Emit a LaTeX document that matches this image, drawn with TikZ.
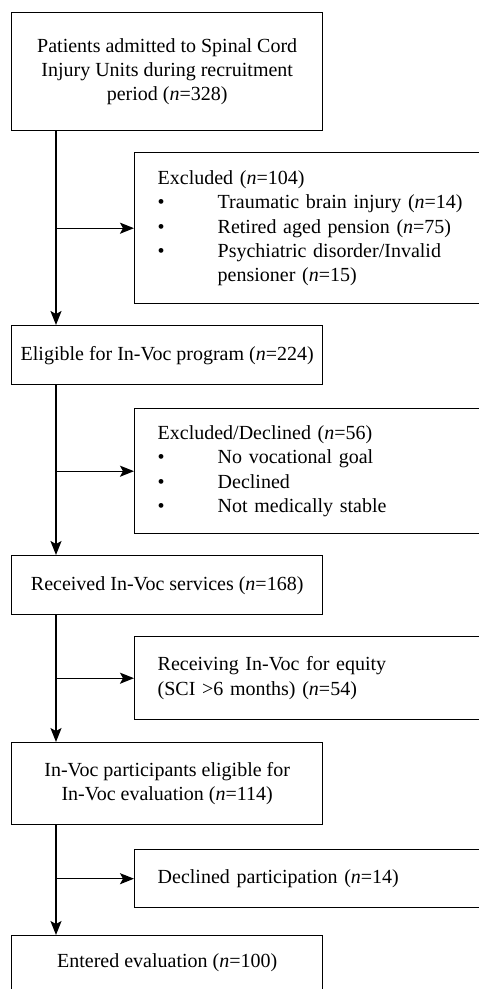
\documentclass[tikz,border=0pt]{standalone}
\usepackage{fontspec}
\setmainfont{Liberation Serif}
\usetikzlibrary{arrows.meta,calc}
\begin{document}
\begin{tikzpicture}[x=1pt,y=1pt,
  every node/.style={font=\fontsize{20}{24.4}\selectfont},
  leftbox/.style={draw,line width=1.4pt,anchor=north west,minimum width=311pt,align=center,inner sep=0pt},
  rightbox/.style={draw,line width=1.4pt,anchor=north west,text width=330pt,align=left,inner xsep=23pt,inner ysep=0pt},
  flow/.style={line width=1.4pt,-{Stealth[length=14pt,width=11pt,inset=3pt]}}
]
\useasboundingbox (0,0) rectangle (479,-989);
\clip (0,0) rectangle (479,-989);
\newcommand{\bul}{\makebox[60pt][l]{\textbullet}}
% left boxes
\node[leftbox,minimum height=118pt] (admit) at (11,-12) {Patients admitted to Spinal Cord\\Injury Units during recruitment\\period (\textit{n}=328)};
\node[leftbox,minimum height=59pt] (elig) at (11,-325) {Eligible for In-Voc program (\textit{n}=224)};
\node[leftbox,minimum height=59pt] (recv) at (11,-555) {Received In-Voc services (\textit{n}=168)};
\node[leftbox,minimum height=82pt] (part) at (11,-742) {In-Voc participants eligible for\\In-Voc evaluation (\textit{n}=114)};
\node[leftbox,text height=31.7pt,text depth=33.3pt] (enter) at (11,-935) {Entered evaluation (\textit{n}=100)};
% right boxes
\node[rightbox,minimum height=151pt] (excl) at (134,-152) {Excluded (\textit{n}=104)\\
\bul Traumatic brain injury (\textit{n}=14)\\
\bul Retired aged pension (\textit{n}=75)\\
\bul Psychiatric disorder/Invalid\\
\hspace*{60pt}pensioner (\textit{n}=15)};
\node[rightbox,minimum height=125pt] (decl) at (134,-408) {Excluded/Declined (\textit{n}=56)\\
\bul No vocational goal\\
\bul Declined\\
\bul Not medically stable};
\node[rightbox,minimum height=83pt] (equity) at (134,-636) {Receiving In-Voc for equity\\(SCI >6 months) (\textit{n}=54)};
\node[rightbox,minimum height=58pt] (declp) at (134,-849) {Declined participation (\textit{n}=14)};
% spine
\coordinate (spine) at (56,0);
\draw[flow] (admit.south -| spine) -- (elig.north -| spine);
\draw[flow] (elig.south -| spine) -- (recv.north -| spine);
\draw[flow] (recv.south -| spine) -- (part.north -| spine);
\draw[flow] (part.south -| spine) -- (enter.north -| spine);
\draw[flow] (excl.west -| spine) -- (excl.west);
\draw[flow] (decl.west -| spine) -- (decl.west);
\draw[flow] (equity.west -| spine) -- (equity.west);
\draw[flow] (declp.west -| spine) -- (declp.west);
\end{tikzpicture}
\end{document}
